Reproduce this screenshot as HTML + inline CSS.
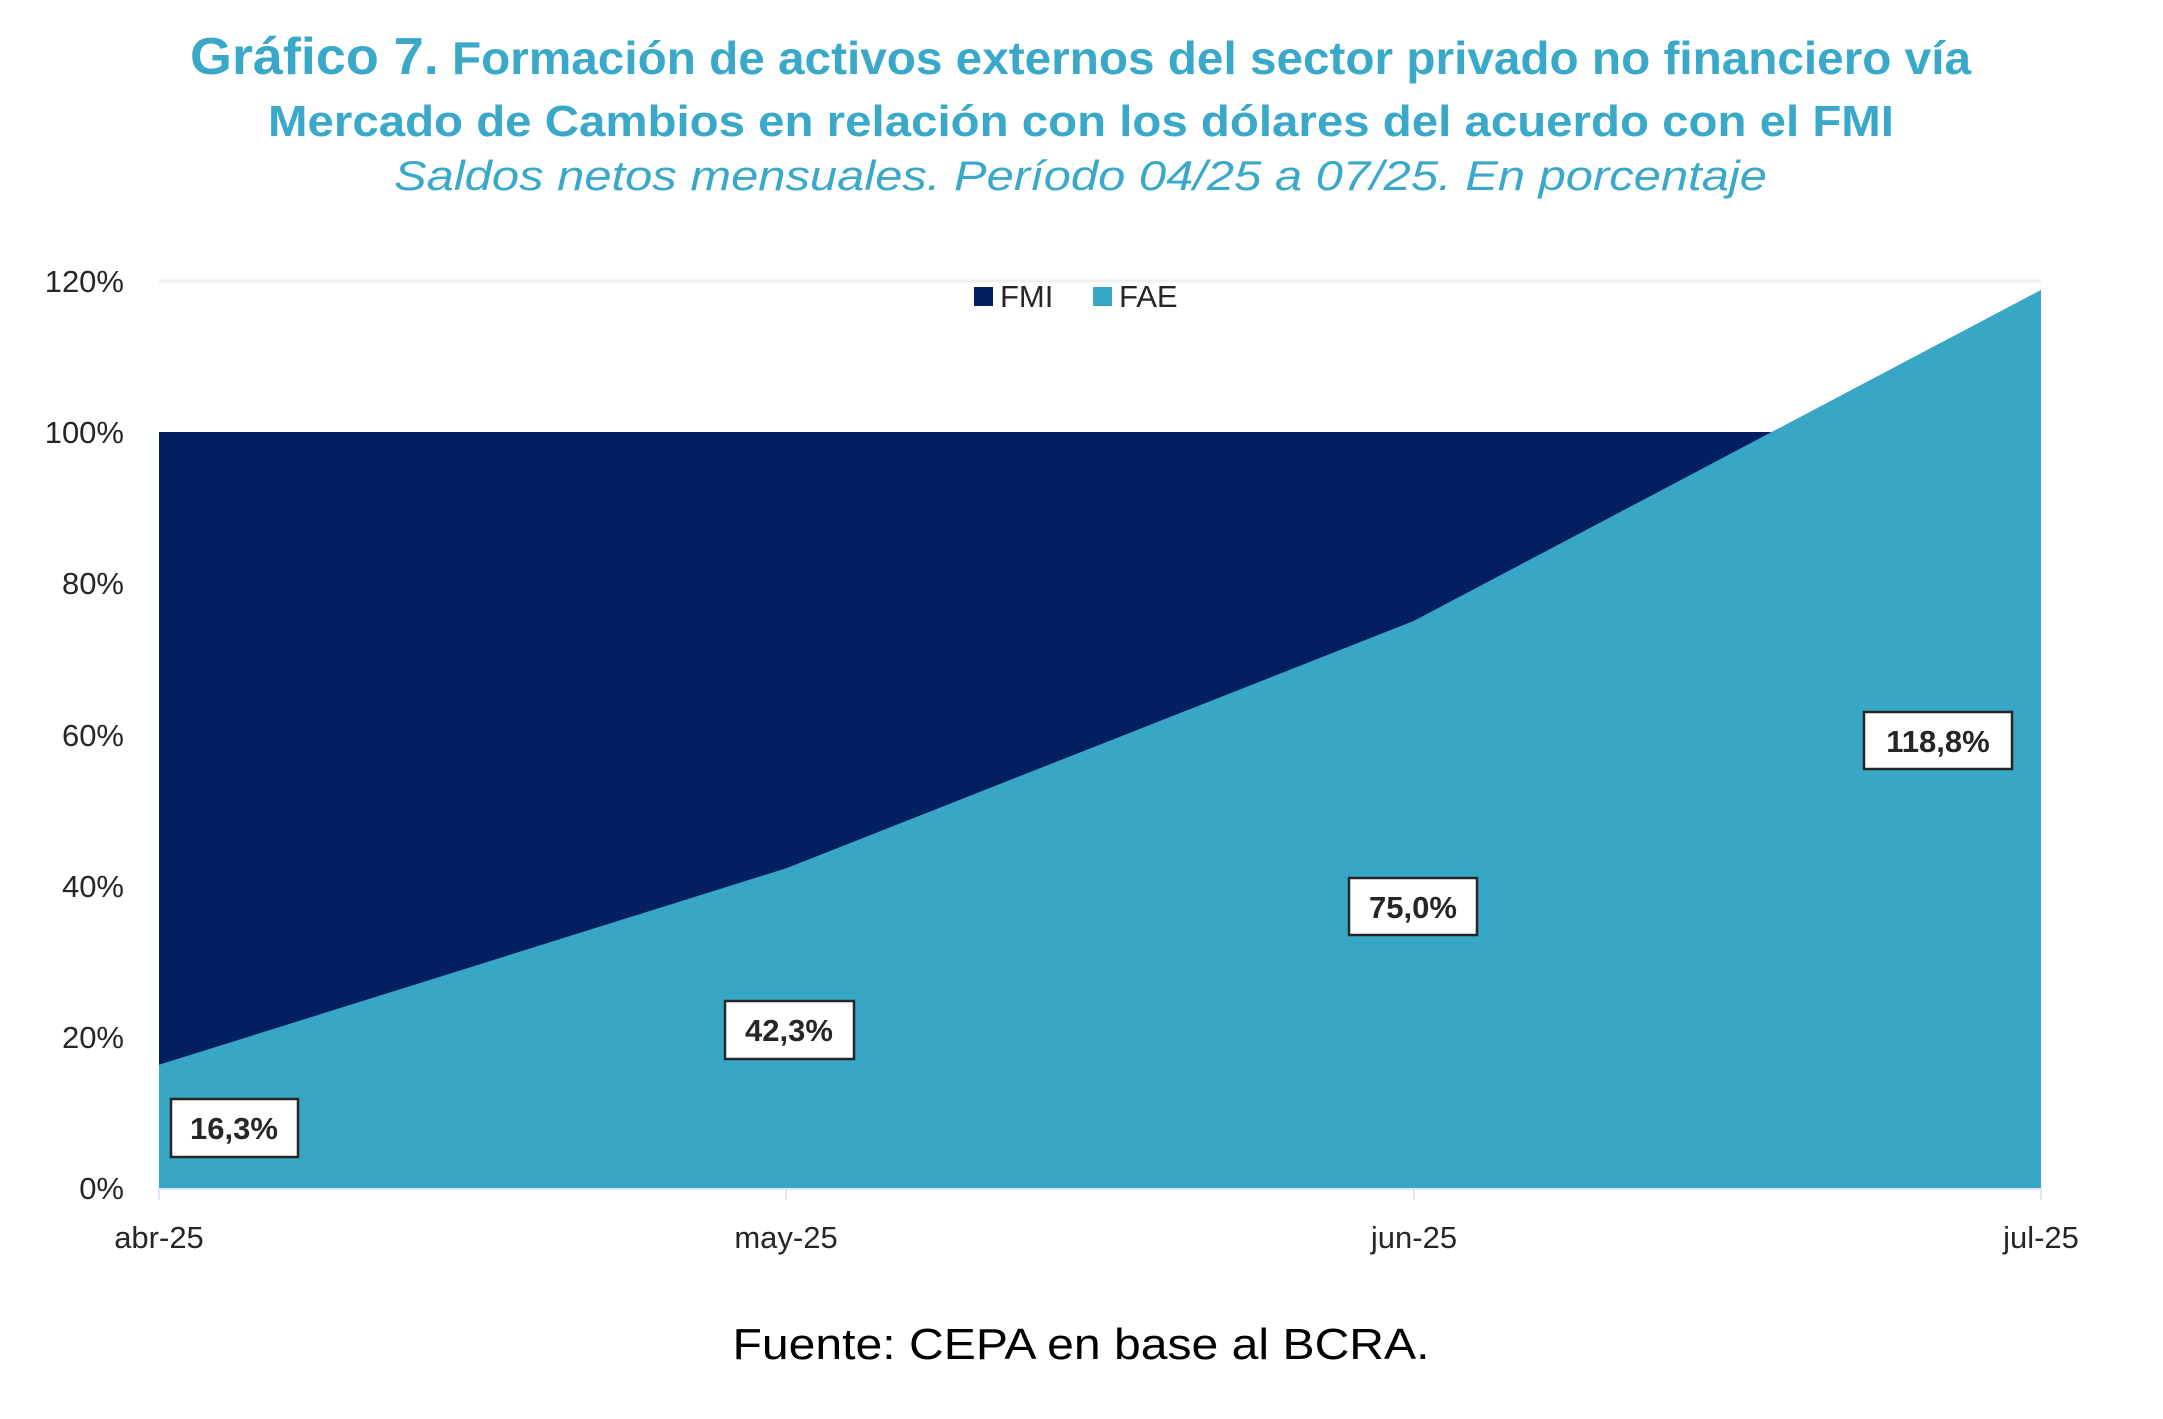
<!DOCTYPE html>
<html><head><meta charset="utf-8"><style>
html,body{margin:0;padding:0;background:#fff;}
svg{display:block;}
</style></head><body>
<svg width="2163" height="1419" viewBox="0 0 2163 1419" xmlns="http://www.w3.org/2000/svg" font-family="'Liberation Sans', sans-serif">
<rect width="2163" height="1419" fill="#fff"/>
<g fill="#3aa8c8" text-anchor="start">
<text x="190" y="74" font-weight="bold" font-size="46" textLength="1781" lengthAdjust="spacingAndGlyphs"><tspan font-size="52">Gráfico 7.</tspan> Formación de activos externos del sector privado no financiero vía</text>
<text x="268" y="136" font-weight="bold" font-size="44" textLength="1626" lengthAdjust="spacingAndGlyphs">Mercado de Cambios en relación con los dólares del acuerdo con el FMI</text>
<text x="394" y="190" font-style="italic" font-size="42" textLength="1373" lengthAdjust="spacingAndGlyphs">Saldos netos mensuales. Período 04/25 a 07/25. En porcentaje</text>
</g>
<line x1="159" y1="281" x2="2041" y2="281" stroke="#f0f0f0" stroke-width="3"/>
<rect x="159" y="432" width="1882" height="756" fill="#022060"/>
<polygon points="159,1064.8 786.3,868.2 1413.6,621 2041,289.9 2041,1188 159,1188" fill="#37a7c5"/>
<line x1="159" y1="1189" x2="2041" y2="1189" stroke="#dfe8f0" stroke-width="2"/>
<g stroke="#dfe8f0" stroke-width="2"><line x1="159" y1="1188" x2="159" y2="1200"/><line x1="786" y1="1188" x2="786" y2="1200"/><line x1="1414" y1="1188" x2="1414" y2="1200"/><line x1="2041" y1="1188" x2="2041" y2="1200"/></g>
<g fill="#262626" font-size="31" text-anchor="end">
<text x="124" y="292">120%</text><text x="124" y="443">100%</text><text x="124" y="594">80%</text><text x="124" y="746">60%</text><text x="124" y="897">40%</text><text x="124" y="1048">20%</text><text x="124" y="1199">0%</text>
</g>
<g fill="#262626" font-size="31" text-anchor="middle">
<text x="159" y="1248">abr-25</text><text x="786" y="1248">may-25</text><text x="1414" y="1248">jun-25</text><text x="2041" y="1248">jul-25</text>
</g>
<rect x="974" y="287" width="19" height="19" fill="#022060"/>
<text x="1000" y="307" font-size="31" fill="#262626">FMI</text>
<rect x="1093" y="287" width="19" height="19" fill="#37a7c5"/>
<text x="1119" y="307" font-size="31" fill="#262626">FAE</text>
<g stroke="#262626" stroke-width="2.5" fill="#fff">
<rect x="171" y="1099" width="127" height="58"/>
<rect x="725" y="1001" width="129" height="58"/>
<rect x="1349" y="878" width="128" height="57"/>
<rect x="1864" y="712" width="148" height="57"/>
</g>
<g fill="#262626" font-size="31" font-weight="bold" text-anchor="middle">
<text x="234" y="1139">16,3%</text>
<text x="789" y="1041">42,3%</text>
<text x="1413" y="918">75,0%</text>
<text x="1938" y="752">118,8%</text>
</g>
<text x="1081" y="1359" font-size="44" fill="#000" text-anchor="middle" textLength="697" lengthAdjust="spacingAndGlyphs">Fuente: CEPA en base al BCRA.</text>
</svg>
</body></html>
